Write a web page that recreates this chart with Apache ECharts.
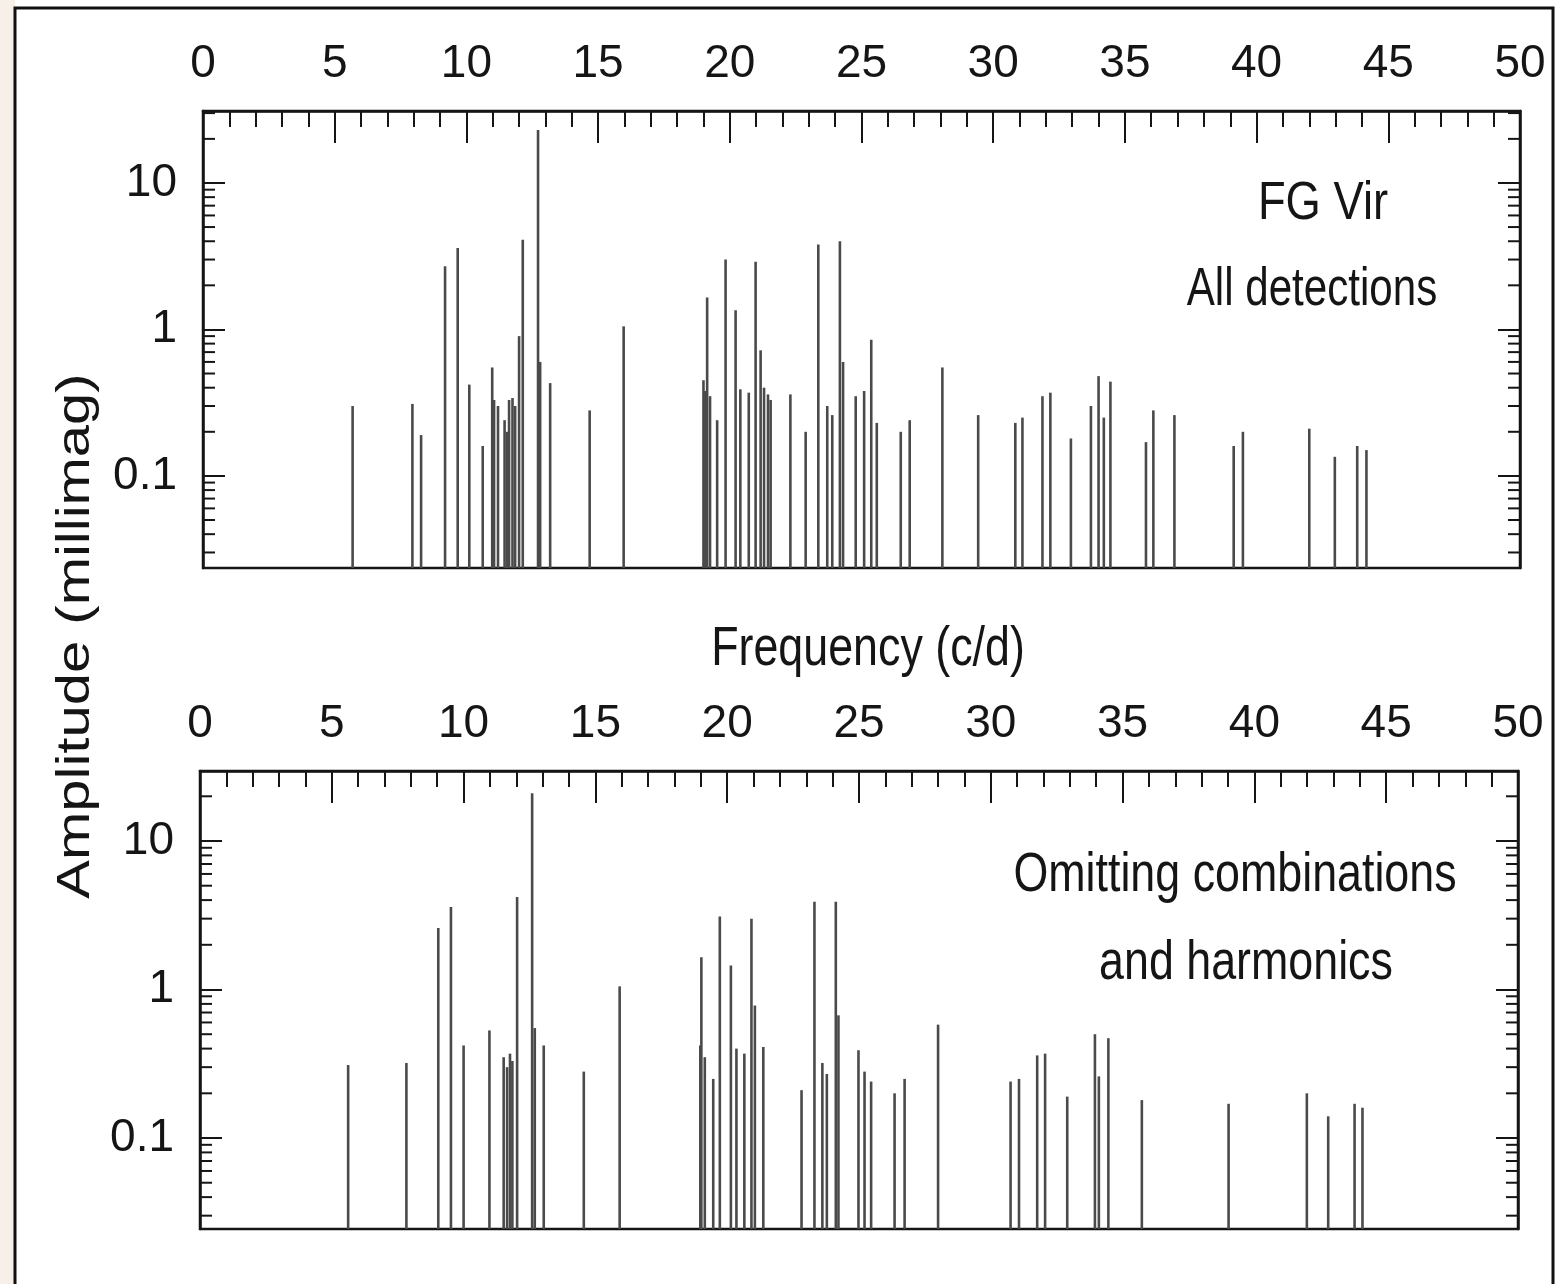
<!DOCTYPE html>
<html>
<head>
<meta charset="utf-8">
<script src="https://cdn.jsdelivr.net/npm/echarts@6/dist/echarts.min.js"></script>
<style>
html,body{margin:0;padding:0;background:#fff;}
#chart{width:1558px;height:1284px;}
</style>
</head>
<body>
<div id="chart"></div>
<script>
// ---- data ----
const freqAll = [5.68, 7.95, 8.28, 9.19, 9.67, 10.11, 10.62, 10.98, 11.05, 11.2, 11.45, 11.55, 11.62, 11.75, 11.85, 12.0, 12.14, 12.72, 12.8, 13.18, 14.68, 15.97,
  19.0, 19.05, 19.14, 19.25, 19.52, 19.84, 20.22, 20.4, 20.72, 20.98, 21.17, 21.3, 21.45, 21.55, 22.3, 22.88, 23.36, 23.7, 23.89, 24.18, 24.3, 24.78, 25.1, 25.37, 25.58,
  26.49, 26.83, 28.07, 29.43, 30.84, 31.11, 31.87, 32.17, 32.95, 33.71, 34.0, 34.2, 34.45, 35.8, 36.08, 36.88, 39.13, 39.48, 42.0, 42.97, 43.82, 44.17];
const ampAll = [0.30, 0.31, 0.19, 2.7, 3.6, 0.42, 0.16, 0.55, 0.33, 0.30, 0.24, 0.20, 0.33, 0.34, 0.30, 0.9, 4.1, 23, 0.6, 0.43, 0.28, 1.05,
  0.45, 0.38, 1.65, 0.35, 0.24, 3.0, 1.35, 0.39, 0.37, 2.9, 0.72, 0.40, 0.36, 0.33, 0.36, 0.20, 3.8, 0.30, 0.26, 4.0, 0.6, 0.35, 0.38, 0.85, 0.23,
  0.20, 0.24, 0.55, 0.26, 0.23, 0.25, 0.35, 0.37, 0.18, 0.30, 0.48, 0.25, 0.44, 0.17, 0.28, 0.26, 0.16, 0.20, 0.21, 0.135, 0.16, 0.15];

const freqOmit = [5.62, 7.83, 9.04, 9.52, 10.0, 10.98, 11.52, 11.65, 11.76, 11.85, 12.03, 12.6, 12.7, 13.04, 14.56, 15.92,
  18.98, 19.02, 19.15, 19.47, 19.72, 20.14, 20.35, 20.65, 20.92, 21.05, 21.37, 22.82, 23.31, 23.61, 23.78, 24.12, 24.22, 24.98, 25.21, 25.46,
  26.35, 26.73, 28.0, 30.75, 31.07, 31.76, 32.06, 32.9, 33.95, 34.1, 34.46, 35.73, 39.02, 41.99, 42.8, 43.8, 44.1];
const ampOmit = [0.31, 0.32, 2.6, 3.6, 0.42, 0.53, 0.35, 0.30, 0.37, 0.33, 4.2, 21, 0.55, 0.42, 0.28, 1.05,
  0.42, 1.65, 0.35, 0.25, 3.1, 1.45, 0.40, 0.37, 3.0, 0.78, 0.41, 0.21, 3.9, 0.32, 0.27, 3.9, 0.67, 0.39, 0.28, 0.24,
  0.20, 0.25, 0.58, 0.24, 0.25, 0.36, 0.37, 0.19, 0.50, 0.26, 0.47, 0.18, 0.17, 0.20, 0.14, 0.17, 0.16];

const minorTickValues = [0.03, 0.04, 0.05, 0.06, 0.07, 0.08, 0.09, 0.2, 0.3, 0.4, 0.5, 0.6, 0.7, 0.8, 0.9, 2, 3, 4, 5, 6, 7, 8, 9, 20, 30];
const xTitle = 'Frequency (c/d)';
const yTitle = 'Amplitude (millimag)';
const panelText = [['FG Vir', 'All detections'], ['Omitting combinations', 'and harmonics']];

// ---- chart ----
const SANS = '"Liberation Sans", Arial, Helvetica, sans-serif';
const INK = '#151515';
const yRanges = [[0.0235, 31], [0.0244, 29.6]];

function zip(a, b) { return a.map((v, i) => [v, b[i]]); }

function stemRenderer(yMin) {
  return function (params, api) {
    const f = api.value(0), a = api.value(1);
    const top = api.coord([f, a]);
    const base = api.coord([f, yMin]);
    return { type: 'line', shape: { x1: top[0], y1: top[1], x2: base[0], y2: base[1] },
      style: { stroke: '#4a4a4a', lineWidth: 2.6 } };
  };
}
function minorTickRenderer(params, api) {
  const v = api.value(1);
  const pl = api.coord([0, v]);
  const pr = api.coord([50, v]);
  const L = 12;
  return { type: 'group', children: [
    { type: 'line', shape: { x1: pl[0], y1: pl[1], x2: pl[0] + L, y2: pl[1] }, style: { stroke: INK, lineWidth: 2 } },
    { type: 'line', shape: { x1: pr[0] - L, y1: pr[1], x2: pr[0], y2: pr[1] }, style: { stroke: INK, lineWidth: 2 } }
  ] };
}

const grids = [
  { left: 203, top: 111, width: 1317, height: 457 },
  { left: 200, top: 771, width: 1318, height: 458 }
];

const xAxes = grids.map((g, i) => ({
  type: 'value', gridIndex: i, position: 'top', min: 0, max: 50, interval: 5,
  axisLine: { show: true, lineStyle: { color: INK, width: 2.5 } },
  axisTick: { show: true, inside: true, length: 32, lineStyle: { color: INK, width: 2 } },
  minorTick: { show: true, splitNumber: 5, length: 16, lineStyle: { color: INK, width: 2 } },
  splitLine: { show: false },
  axisLabel: { show: true, margin: 24, fontSize: 46, fontFamily: SANS, color: INK }
}));

function fmt(v) { return String(Number(Number(v).toPrecision(3))); }
const yAxes = [];
grids.forEach((g, i) => {
  ['left', 'right'].forEach(pos => {
    yAxes.push({
      type: 'log', logBase: 10, gridIndex: i, position: pos,
      min: yRanges[i][0], max: yRanges[i][1],
      axisLine: { show: true, lineStyle: { color: INK, width: 2.5 } },
      axisTick: { show: true, inside: true, length: 22, lineStyle: { color: INK, width: 2 } },
      splitLine: { show: false },
      axisLabel: { show: pos === 'left', margin: 26, fontSize: 46, fontFamily: SANS, color: INK,
        showMinLabel: false, showMaxLabel: false, formatter: fmt }
    });
  });
});

const series = [
  { type: 'custom', xAxisIndex: 0, yAxisIndex: 0, clip: true, renderItem: stemRenderer(yRanges[0][0]),
    data: zip(freqAll, ampAll), encode: { x: 0, y: 1 }, z: 2 },
  { type: 'custom', xAxisIndex: 1, yAxisIndex: 2, clip: true, renderItem: stemRenderer(yRanges[1][0]),
    data: zip(freqOmit, ampOmit), encode: { x: 0, y: 1 }, z: 2 },
  { type: 'custom', xAxisIndex: 0, yAxisIndex: 0, renderItem: minorTickRenderer,
    data: minorTickValues.filter(v => v > yRanges[0][0] && v < yRanges[0][1]).map(v => [0, v]), encode: { x: 0, y: 1 }, z: 3 },
  { type: 'custom', xAxisIndex: 1, yAxisIndex: 2, renderItem: minorTickRenderer,
    data: minorTickValues.filter(v => v > yRanges[1][0] && v < yRanges[1][1]).map(v => [0, v]), encode: { x: 0, y: 1 }, z: 3 }
];

function label(text, x, y, size, sx) {
  return { type: 'text', x: x, y: y, z: 10, scaleX: sx,
    style: { text: text, font: size + 'px ' + SANS, fill: INK, textAlign: 'center', textVerticalAlign: 'middle' } };
}

const graphic = [
  { type: 'rect', shape: { x: 0, y: 0, width: 15, height: 1284 }, style: { fill: '#f7f0e8' }, z: 0 },
  { type: 'polyline', shape: { points: [[15, 1284], [15, 8], [1553, 8], [1553, 1284]] }, style: { stroke: '#111', lineWidth: 3, fill: null }, z: 1 },
  label(panelText[0][0], 1323, 204, 54, 0.84),
  label(panelText[0][1], 1312, 290, 54, 0.78),
  label(panelText[1][0], 1235, 876, 56, 0.8),
  label(panelText[1][1], 1246, 964, 56, 0.8),
  label(xTitle, 868, 650, 56, 0.8),
  { type: 'text', x: 76, y: 636, rotation: Math.PI / 2, scaleY: 0.8, z: 10,
    style: { text: yTitle, font: '58px ' + SANS, fill: INK, textAlign: 'center', textVerticalAlign: 'middle' } }
];

const chart = echarts.init(document.getElementById('chart'), null, { renderer: 'canvas' });
chart.setOption({
  backgroundColor: '#ffffff',
  animation: false,
  grid: grids.map(g => Object.assign({ show: true, borderColor: INK, borderWidth: 2.5, backgroundColor: 'transparent' }, g)),
  xAxis: xAxes,
  yAxis: yAxes,
  series: series,
  graphic: graphic
});
</script>
</body>
</html>
